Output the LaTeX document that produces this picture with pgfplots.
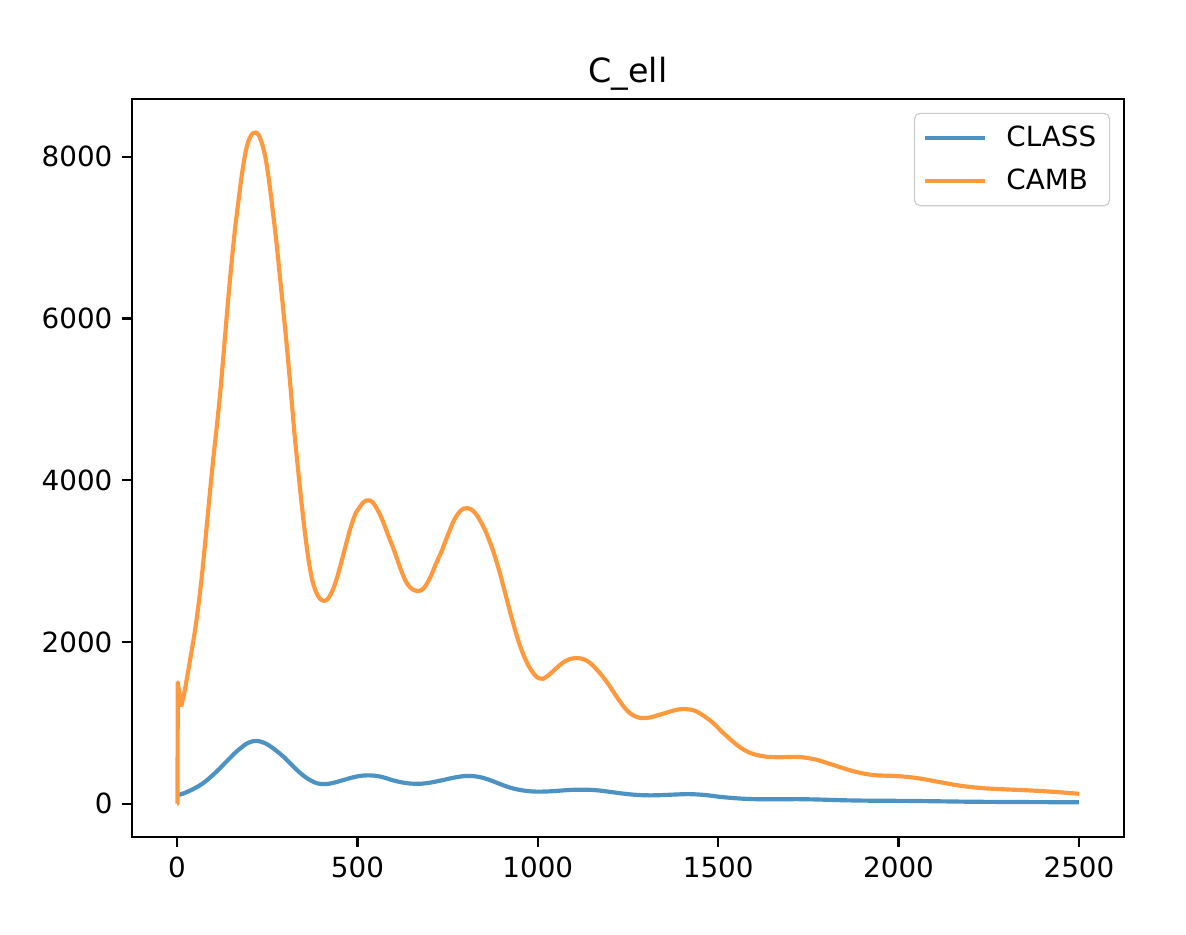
\documentclass[border=0pt]{standalone}
\usepackage{fontspec}
\setmainfont{DejaVu Sans}
\usepackage{pgfplots}
\pgfplotsset{compat=1.18}
\definecolor{cblue}{HTML}{4C92C3}
\definecolor{corange}{HTML}{FF993E}
\begin{document}
\begin{tikzpicture}
\begin{axis}[
 scale only axis, width=357pt, height=265.7pt,
 xmin=-125, xmax=2625, ymin=-415, ymax=8715,
 xtick={0,500,1000,1500,2000,2500}, ytick={0,2000,4000,6000,8000},
 scaled ticks=false,
 /pgf/number format/1000 sep={},
 /pgf/number format/assume math mode=true,
 tick label style={font=\fontsize{10}{12}\selectfont},
 tick align=outside, xtick pos=left, ytick pos=left,
 major tick length=3.5pt,
 every tick/.style={black, line width=0.8pt},
 axis line style={line width=0.8pt},
 title={C\_ell},
 title style={at={(0.5,1)}, anchor=base, font=\fontsize{12}{14}\selectfont},
 legend style={at={(1,1)}, anchor=north east, xshift=-5pt, yshift=-5pt,
   draw=black!20, rounded corners=2pt, fill=white, fill opacity=0.8, text opacity=1,
   font=\fontsize{10}{12}\selectfont, inner xsep=3pt, inner ysep=2.7pt,
   nodes={inner sep=1.8pt}, row sep=2.8pt,
   /tikz/every odd column/.append style={column sep=5.2pt}},
 legend cell align=left,
 legend image code/.code={\draw[#1] (0pt,0pt) -- (21.6pt,0pt);},
]
\addplot[cblue, line width=1.5pt, smooth, line join=round] coordinates {
(2,108) (10,115) (20,130) (30,150) (40,170) (50,193) (60,218) (70,247) (80,280)
(90,318) (100,358) (110,400) (120,443) (130,490) (140,535) (150,580) (160,625)
(170,665) (180,700) (190,735) (200,758) (210,772) (220,776) (230,770) (240,755)
(250,733) (260,705) (270,672) (280,637) (290,600) (300,560) (310,515) (320,470)
(330,425) (340,385) (350,348) (360,315) (370,288) (380,265) (390,250) (400,243)
(410,242) (420,246) (430,254) (440,265) (450,278) (460,291) (470,304) (480,317)
(490,328) (500,338) (510,345) (520,349) (530,350) (540,349) (550,345) (560,338)
(570,328) (580,315) (590,300) (600,287) (610,276) (620,266) (630,258) (640,252)
(650,248) (660,246) (670,246) (680,248) (690,253) (700,259) (710,267) (720,276)
(730,285) (740,295) (750,305) (760,315) (770,324) (780,332) (790,338) (800,342)
(810,343) (820,341) (830,336) (840,328) (850,317) (860,303) (870,287) (880,270)
(890,252) (900,235) (910,218) (920,203) (930,190) (940,179) (950,170) (960,163)
(970,157) (980,153) (990,150) (1000,149) (1010,149) (1030,152) (1050,157)
(1070,164) (1090,170) (1110,173) (1130,173) (1150,170) (1170,163) (1190,152)
(1210,140) (1230,128) (1250,118) (1270,110) (1290,105) (1310,103) (1330,104)
(1350,107) (1370,111) (1390,115) (1410,118) (1430,117) (1450,112) (1470,104)
(1490,93) (1510,82) (1530,74) (1550,67) (1570,61) (1600,56) (1630,54) (1660,54)
(1690,55) (1720,56) (1750,54) (1780,51) (1810,47) (1850,42) (1900,38) (1950,36)
(2000,35) (2050,33) (2100,30) (2150,27) (2200,24) (2300,21) (2400,19) (2500,17)
};
\addlegendentry{CLASS}
\addplot[corange, line width=1.5pt, smooth, line join=round] coordinates {
(11,1198) (20,1370) (30,1620) (40,1880) (50,2150) (60,2480) (70,2870) (80,3330)
(90,3800) (100,4250) (110,4660) (120,5100) (130,5620) (140,6150) (150,6640)
(160,7080) (170,7450) (180,7790) (190,8060) (200,8220) (210,8290) (218,8300)
(226,8270) (235,8170) (245,7990) (255,7700) (265,7340) (275,6960) (285,6520)
(295,6080) (305,5620) (315,5120) (325,4600) (335,4150) (345,3720) (355,3330)
(365,3000) (375,2760) (385,2620) (395,2540) (405,2510) (415,2520) (425,2580)
(435,2680) (445,2820) (455,2980) (465,3150) (475,3320) (485,3470) (495,3590)
(505,3660) (515,3720) (525,3750) (535,3750) (545,3710) (555,3640) (565,3550)
(575,3440) (585,3320) (595,3210) (605,3090) (615,2960) (625,2840) (635,2740)
(645,2680) (655,2645) (665,2630) (675,2635) (685,2670) (695,2740) (705,2830)
(715,2940) (725,3040) (735,3140) (745,3260) (755,3370) (765,3480) (775,3560)
(785,3620) (795,3650) (805,3655) (815,3640) (825,3600) (835,3540) (845,3460)
(855,3370) (865,3260) (875,3140) (885,3000) (895,2850) (905,2680) (915,2510)
(925,2340) (935,2180) (945,2030) (955,1900) (965,1790) (975,1700) (985,1630)
(995,1575) (1005,1548) (1015,1545) (1030,1590) (1045,1650) (1060,1710)
(1075,1760) (1090,1790) (1105,1800) (1120,1795) (1135,1770) (1150,1720)
(1165,1650) (1180,1570) (1195,1480) (1210,1380) (1225,1280) (1240,1190)
(1255,1120) (1270,1080) (1285,1060) (1300,1060) (1315,1070) (1330,1090)
(1345,1110) (1360,1130) (1375,1150) (1390,1165) (1405,1170) (1420,1165)
(1435,1150) (1450,1115) (1465,1070) (1480,1020) (1495,960) (1510,890)
(1525,830) (1540,770) (1555,715) (1570,670) (1585,635) (1600,610) (1620,590)
(1640,578) (1660,575) (1680,575) (1700,578) (1720,578) (1740,570) (1760,555)
(1780,535) (1800,505) (1820,478) (1840,448) (1860,420) (1880,395) (1900,375)
(1920,360) (1940,350) (1960,347) (1980,344) (2000,340) (2020,333) (2040,323)
(2060,310) (2080,295) (2100,278) (2120,262) (2140,245) (2160,230) (2180,216)
(2200,206) (2225,195) (2250,187) (2300,176) (2350,167) (2400,155) (2450,140)
(2500,122)
};
\addlegendentry{CAMB}
\addplot[corange, line width=1.5pt, line join=round, forget plot] coordinates {
(0,0) (1,0) (2,1500) (11,1198)
};
\end{axis}
\pgfresetboundingbox
\path ([xshift=-47.5pt,yshift=-35pt]current axis.south west) rectangle ([xshift=22.3pt,yshift=35.6pt]current axis.north east);
\end{tikzpicture}
\end{document}
